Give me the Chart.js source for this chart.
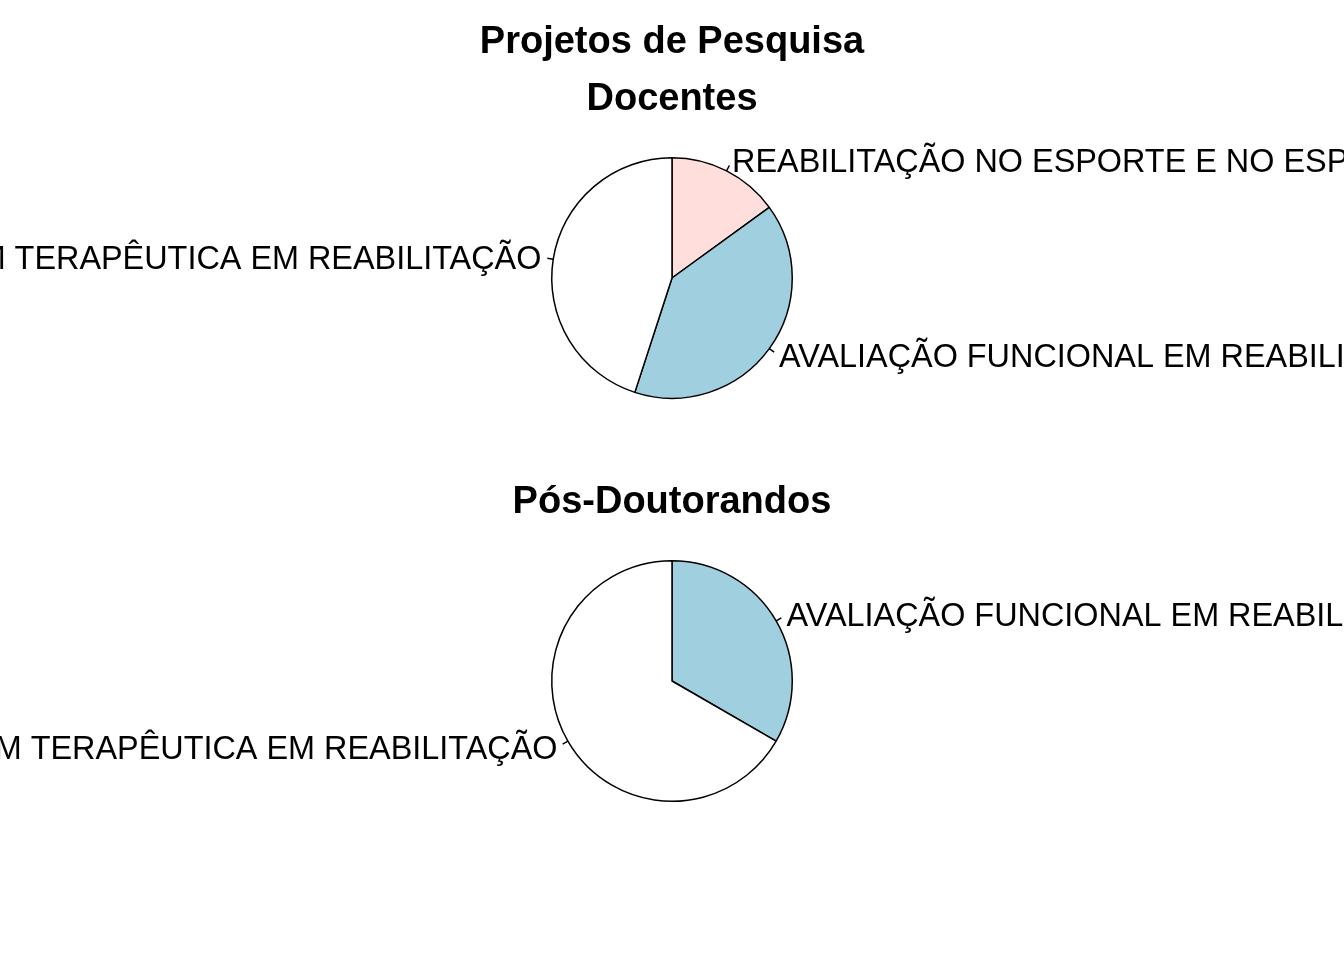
<!DOCTYPE html>
<html>
<head>
<meta charset="utf-8">
<script src="https://cdn.jsdelivr.net/npm/chart.js@4/dist/chart.umd.min.js"></script>
<style>
  html, body { margin: 0; padding: 0; background: #fff; overflow: hidden; }
  #wrap { position: relative; width: 1344px; height: 960px; }
  canvas { position: absolute; left: 0; }
</style>
</head>
<body>
<div id="wrap">
  <canvas id="pieDocentes" width="1344" height="480" style="top:0"></canvas>
  <canvas id="piePosDoc" width="1344" height="480" style="top:480px"></canvas>
</div>
<script>
// ---- data ----
const mainTitle = "Projetos de Pesquisa";
const docentesTitle = "Docentes";
const posDocTitle = "Pós-Doutorandos";

const docentesLabels = [
  "REABILITAÇÃO NO ESPORTE E NO ESPORTE ADAPTADO",
  "AVALIAÇÃO FUNCIONAL EM REABILITAÇÃO",
  "ABORDAGEM TERAPÊUTICA EM REABILITAÇÃO"
];
const docentesValues = [3, 8, 9];
const docentesColors = ["#FFDEDC", "#A0CFE0", "#FFFFFF"];

const posDocLabels = [
  "AVALIAÇÃO FUNCIONAL EM REABILITAÇÃO",
  "ABORDAGEM TERAPÊUTICA EM REABILITAÇÃO"
];
const posDocValues = [1, 2];
const posDocColors = ["#A0CFE0", "#FFFFFF"];

const FONT = '"Liberation Sans", Arial, Helvetica, sans-serif';

// R-style pie labels: short tick from r to 1.05r, text at 1.1r
const pieLabels = {
  id: "pieLabels",
  afterDatasetsDraw(chart) {
    const ctx = chart.ctx;
    const meta = chart.getDatasetMeta(0);
    const labels = chart.data.labels;
    ctx.save();
    ctx.strokeStyle = "#000";
    ctx.lineWidth = 1.5;
    ctx.fillStyle = "#000";
    ctx.font = "32.4px " + FONT;
    ctx.textBaseline = "middle";
    meta.data.forEach((arc, i) => {
      const p = arc.getProps(["x", "y", "startAngle", "endAngle", "outerRadius"], true);
      const mid = (p.startAngle + p.endAngle) / 2;
      const c = Math.cos(mid), s = Math.sin(mid);
      const r = p.outerRadius;
      ctx.beginPath();
      ctx.moveTo(p.x + c * r, p.y + s * r);
      ctx.lineTo(p.x + c * r * 1.05, p.y + s * r * 1.05);
      ctx.stroke();
      ctx.textAlign = c < 0 ? "right" : "left";
      // +2.5: Liberation's middle baseline sits a little higher than R's
      ctx.fillText(labels[i], p.x + c * r * 1.1, p.y + s * r * 1.1 + 2.5);
    });
    ctx.restore();
  }
};

// titles drawn at fixed rows above each pie
const titles = {
  id: "titles",
  afterDraw(chart, args, opts) {
    const ctx = chart.ctx;
    ctx.save();
    ctx.fillStyle = "#000";
    ctx.font = "bold 38px " + FONT;
    ctx.textAlign = "center";
    ctx.textBaseline = "middle";
    (opts.lines || []).forEach(l => ctx.fillText(l.text, chart.width / 2, l.y));
    ctx.restore();
  }
};

function makePie(id, labels, values, colors, padding, titleLines) {
  return new Chart(document.getElementById(id), {
    type: "pie",
    data: {
      labels: labels,
      datasets: [{
        data: values,
        backgroundColor: colors,
        borderColor: "#000",
        borderWidth: 1.5
      }]
    },
    options: {
      responsive: false,
      devicePixelRatio: 1,
      animation: false,
      layout: { padding: padding },
      plugins: {
        legend: { display: false },
        tooltip: { enabled: false },
        titles: { lines: titleLines }
      }
    },
    plugins: [pieLabels, titles]
  });
}

makePie("pieDocentes", docentesLabels, docentesValues, docentesColors,
  { left: 551, right: 551, top: 157, bottom: 81 },
  [{ text: mainTitle, y: 43 }, { text: docentesTitle, y: 100 }]);

makePie("piePosDoc", posDocLabels, posDocValues, posDocColors,
  { left: 551, right: 551, top: 80, bottom: 158 },
  [{ text: posDocTitle, y: 23 }]);
</script>
</body>
</html>
